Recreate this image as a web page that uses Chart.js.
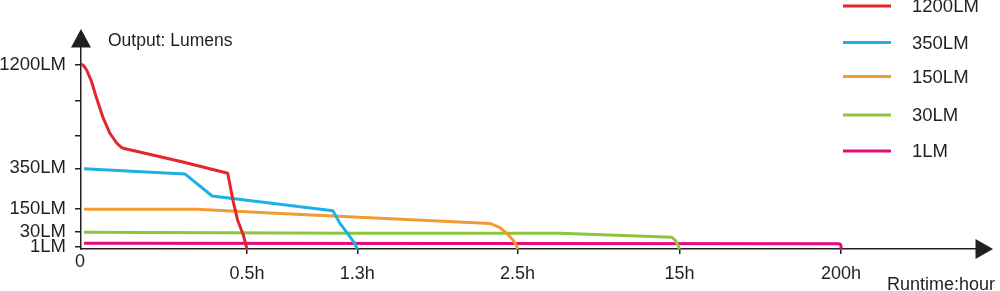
<!DOCTYPE html>
<html>
<head>
<meta charset="utf-8">
<script src="https://cdn.jsdelivr.net/npm/chart.js@4.4.1/dist/chart.umd.min.js"></script>
<style>
html,body{margin:0;padding:0;background:#fff;}
#wrap{width:1000px;height:291px;position:relative;}
canvas{display:block;}
</style>
</head>
<body>
<div id="wrap"><canvas id="c" width="1000" height="291"></canvas></div>
<script>
// ---------- data ----------
const seriesNames = ['1200LM', '350LM', '150LM', '30LM', '1LM'];

const redHours   = [0, 0.004, 0.008, 0.017, 0.032, 0.047, 0.067, 0.087, 0.108, 0.12, 0.127, 0.307, 0.442, 0.458, 0.472, 0.489, 0.5];
const redLumens  = [1200, 1198, 1190, 1155, 1059, 923, 760, 637, 555, 525, 514, 402, 325, 188, 89, 24, 0];

const blueHours  = [0.009, 0.313, 0.395, 1.123, 1.174, 1.246, 1.283, 1.3];
const blueLumens = [348, 322, 212, 139, 74, 21, 6, 0];

const orangeHours  = [0.009, 0.349, 0.667, 2.294, 2.369, 2.421, 2.466, 2.494, 2.5];
const orangeLumens = [146, 146, 127, 74, 52, 27, 14, 2, 0];

const greenHours  = [0.009, 1.3, 5.78, 14.42, 14.65, 14.88, 15];
const greenLumens = [29.4, 27.4, 27.4, 19.4, 14, 4, 0];

const pinkHours  = [0.009, 196.6, 198.8, 200, 200];
const pinkLumens = [7.4, 6.6, 6, 3, 0];

const xTickValues = [0.5, 1.3, 2.5, 15, 200];
const xTickLabels = ['0.5h', '1.3h', '2.5h', '15h', '200h'];
const yTickValues = [1, 30, 150, 350, 620, 900, 1200];
const yTickLabels = ['1LM', '30LM', '150LM', '350LM', '', '', '1200LM'];

const xBreaks = [0, 0.5, 1.3, 2.5, 15, 200, 400];
const yBreaks = [0, 1, 30, 150, 350, 1200, 1350];

// ---------- layout / style ----------
const axisStops = {
  x: [0, 0.18547, 0.30872, 0.48771, 0.66872, 0.84916, 1],
  y: [0, 0.01238, 0.08416, 0.2005, 0.3995, 0.9134, 1]
};
const axisBreaks = { x: xBreaks, y: yBreaks };
const axisTicks = { x: xTickValues, y: yTickValues };
const seriesColors = ['#e2262b', '#1eb0e4', '#f29b34', '#8cc63f', '#e5087f'];
const FONT = '"Liberation Sans", Arial, Helvetica, sans-serif';
const TEXT = '#231f20';
const AXIS = '#231f20';

// piecewise-linear scale (axis is not linear in the original)
class PiecewiseScale extends Chart.LinearScale {
  determineDataLimits() {
    const b = axisBreaks[this.id];
    this.min = b[0];
    this.max = b[b.length - 1];
  }
  buildTicks() {
    return axisTicks[this.id].map(v => ({ value: v }));
  }
  _toDecimal(v) {
    const b = axisBreaks[this.id], s = axisStops[this.id];
    if (v <= b[0]) return s[0];
    for (let i = 0; i < b.length - 1; i++) {
      if (v <= b[i + 1]) {
        return s[i] + (v - b[i]) / (b[i + 1] - b[i]) * (s[i + 1] - s[i]);
      }
    }
    return s[s.length - 1];
  }
  getPixelForValue(value) {
    return this.getPixelForDecimal(this._toDecimal(value));
  }
  getValueForPixel(pixel) {
    const d = this.getDecimalForPixel(pixel);
    const b = axisBreaks[this.id], s = axisStops[this.id];
    for (let i = 0; i < s.length - 1; i++) {
      if (d <= s[i + 1]) return b[i] + (d - s[i]) / (s[i + 1] - s[i]) * (b[i + 1] - b[i]);
    }
    return b[b.length - 1];
  }
}
PiecewiseScale.id = 'piecewise';
PiecewiseScale.defaults = Chart.LinearScale.defaults;
Chart.register(PiecewiseScale);

const zip = (xs, ys) => xs.map((x, i) => ({ x: x, y: ys[i] }));
const seriesData = [
  zip(redHours, redLumens),
  zip(blueHours, blueLumens),
  zip(orangeHours, orangeLumens),
  zip(greenHours, greenLumens),
  zip(pinkHours, pinkLumens)
];

const overlay = {
  id: 'overlay',
  afterDraw(chart) {
    const ctx = chart.ctx, a = chart.chartArea;
    ctx.save();
    ctx.fillStyle = AXIS;
    // y arrow
    ctx.beginPath();
    ctx.moveTo(a.left - 10, a.top + 0.5);
    ctx.lineTo(a.left + 10, a.top + 0.5);
    ctx.lineTo(a.left, a.top - 18);
    ctx.closePath();
    ctx.fill();
    // x arrow
    ctx.beginPath();
    ctx.moveTo(a.right - 0.5, a.bottom - 10);
    ctx.lineTo(a.right - 0.5, a.bottom + 10);
    ctx.lineTo(a.right + 17, a.bottom);
    ctx.closePath();
    ctx.fill();

    ctx.fillStyle = TEXT;
    ctx.textBaseline = 'middle';
    ctx.font = '17.5px ' + FONT;
    ctx.textAlign = 'left';
    ctx.fillText('Output: Lumens', 108, 41);
    ctx.font = '18px ' + FONT;
    ctx.textAlign = 'right';
    ctx.fillText('Runtime:hour', 995, 285);
    ctx.textAlign = 'center';
    ctx.fillText('0', a.left - 1, 262);

    // legend
    const ys = [6, 42.5, 76.5, 115, 151];
    ctx.font = '18.5px ' + FONT;
    ctx.textAlign = 'left';
    chart.data.datasets.forEach((ds, i) => {
      ctx.strokeStyle = ds.borderColor;
      ctx.lineWidth = 3;
      ctx.beginPath();
      ctx.moveTo(843, ys[i]);
      ctx.lineTo(891, ys[i]);
      ctx.stroke();
      ctx.fillStyle = TEXT;
      ctx.fillText(ds.label, 912, ys[i] + 1);
    });
    ctx.restore();
  }
};

new Chart(document.getElementById('c'), {
  type: 'line',
  data: {
    datasets: seriesNames.map((n, i) => ({
      label: n,
      data: seriesData[i],
      borderColor: seriesColors[i],
      backgroundColor: seriesColors[i],
      borderWidth: 3,
      pointRadius: 0,
      tension: 0,
      fill: false,
      borderJoinStyle: 'round'
    }))
  },
  options: {
    responsive: false,
    animation: false,
    devicePixelRatio: 1,
    layout: { padding: { left: 0, right: 24, top: 47, bottom: 0 } },
    plugins: { legend: { display: false }, tooltip: { enabled: false } },
    scales: {
      x: {
        type: 'piecewise',
        position: 'bottom',
        afterFit(s) { s.height = 42; },
        border: { display: true, color: AXIS, width: 1.5 },
        grid: { display: true, drawOnChartArea: false, drawTicks: true, tickLength: 5, color: AXIS, lineWidth: 1.5 },
        ticks: {
          autoSkip: false, maxRotation: 0, padding: 9, color: TEXT,
          font: { family: FONT, size: 18 },
          callback: (v) => { const i = xTickValues.indexOf(v); return i >= 0 ? xTickLabels[i] : ''; }
        }
      },
      y: {
        type: 'piecewise',
        position: 'left',
        afterFit(s) { s.width = 81; },
        border: { display: true, color: AXIS, width: 1.5 },
        grid: { display: true, drawOnChartArea: false, drawTicks: true, tickLength: 6, color: AXIS, lineWidth: 1.5 },
        ticks: {
          autoSkip: false, padding: 9, color: TEXT,
          font: { family: FONT, size: 18.5 },
          callback: (v) => { const i = yTickValues.indexOf(v); return i >= 0 ? yTickLabels[i] : ''; }
        }
      }
    }
  },
  plugins: [overlay]
});
</script>
</body>
</html>
